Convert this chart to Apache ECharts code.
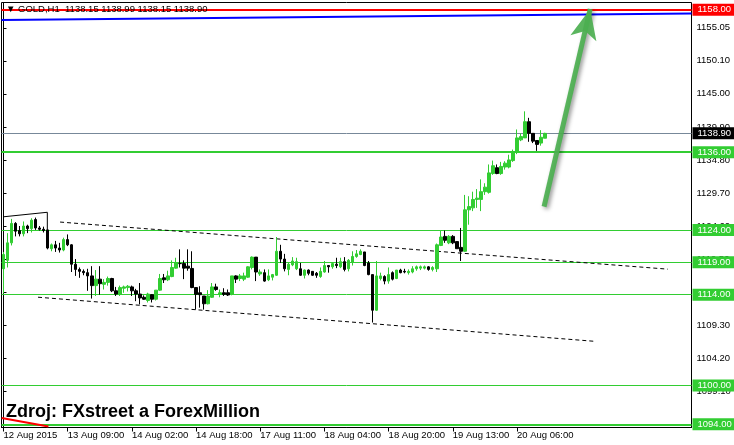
<!DOCTYPE html>
<html><head><meta charset="utf-8">
<script src="https://cdn.jsdelivr.net/npm/echarts@6/dist/echarts.min.js"></script>
<style>html,body{margin:0;padding:0;background:#fff}#c{width:734px;height:445px}</style>
</head><body><div id="c"></div><script>
// ---------------- data ----------------
const symbolName = 'GOLD,H1';
const sourceText = 'Zdroj: FXstreet a ForexMillion';
const openP = [1118.0,1119.3,1122.0,1125.0,1123.9,1123.4,1124.6,1124.2,1125.6,1124.3,1124.1,1124.0,1121.1,1121.7,1121.2,1120.9,1122.5,1121.7,1118.7,1117.9,
1117.6,1117.4,1116.9,1115.4,1116.4,1115.6,1115.9,1116.5,1114.6,1114.1,1115.0,1115.1,1115.2,1114.6,1114.1,1113.6,1113.1,1114.0,1113.3,1114.7,
1116.6,1116.3,1116.8,1118.1,1118.8,1118.8,1118.4,1118.05,1115.1,1114.3,1113.8,1112.6,1113.6,1115.2,1114.1,1114.3,1114.3,1114.05,1116.9,1116.5,
1116.4,1116.7,1118.2,1119.8,1117.2,1117.4,1116.3,1116.7,1117.0,1120.7,1119.5,1117.9,1118.6,1118.0,1118.0,1117.0,1117.8,1117.6,1117.3,1116.8,
1117.5,1118.5,1118.3,1118.7,1118.3,1119.1,1118.0,1119.0,1119.9,1120.2,1120.6,1118.9,1117.1,1111.6,1116.5,1116.8,1116.1,1117.4,1116.5,1117.8,
1117.6,1117.4,1117.5,1118.0,1118.1,1118.1,1118.3,1117.9,1118.0,1121.6,1123.0,1122.0,1123.0,1122.2,1121.3,1120.7,1127.1,1127.4,1128.7,1128.7,
1129.9,1129.8,1132.7,1133.6,1132.7,1133.7,1133.7,1134.7,1136.1,1137.9,1138.2,1140.7,1138.9,1137.8,1137.4,1138.15];
const highP = [1120.6,1123.5,1125.7,1125.2,1124.6,1125.3,1124.8,1125.8,1125.9,1124.6,1124.5,1124.0,1121.9,1122.3,1122.0,1122.8,1123.3,1121.8,1119.5,1118.2,
1117.9,1118.0,1118.4,1117.8,1118.4,1116.4,1116.8,1116.6,1115.2,1115.4,1115.4,1115.5,1115.4,1114.9,1115.8,1113.9,1114.3,1114.1,1114.7,1117.2,
1117.2,1117.7,1119.3,1119.7,1121.0,1119.3,1121.0,1120.7,1115.1,1115.3,1113.8,1114.7,1115.8,1115.7,1114.8,1115.0,1114.8,1116.9,1117.0,1117.2,
1117.4,1118.4,1119.9,1119.8,1117.9,1117.9,1117.9,1117.2,1122.9,1121.7,1120.3,1118.9,1119.8,1119.7,1118.9,1117.9,1117.9,1117.6,1117.5,1118.2,
1119.2,1118.5,1118.9,1119.7,1119.7,1119.8,1119.5,1120.7,1120.9,1121.0,1120.6,1119.2,1117.1,1119.2,1117.4,1117.0,1118.2,1117.6,1117.8,1118.0,
1118.0,1117.9,1118.4,1118.5,1118.5,1118.5,1118.4,1118.4,1121.9,1123.9,1123.9,1123.2,1123.2,1122.2,1124.3,1129.4,1129.2,1129.9,1130.3,1131.8,
1131.2,1134.1,1134.7,1134.1,1134.5,1134.6,1135.6,1136.4,1139.5,1138.9,1142.3,1141.3,1138.9,1137.8,1139.4,1138.99];
const lowP = [1114.2,1118.2,1121.6,1123.0,1123.0,1123.0,1123.5,1123.6,1124.0,1123.9,1123.6,1121.0,1120.7,1120.6,1120.5,1120.7,1121.5,1117.5,1116.9,1116.6,
1117.0,1114.6,1113.4,1113.8,1114.0,1114.8,1115.4,1114.4,1113.8,1113.8,1114.3,1114.5,1113.8,1113.0,1112.5,1113.2,1112.8,1112.8,1113.1,1114.6,
1115.8,1116.1,1116.7,1118.0,1118.2,1116.4,1117.7,1115.0,1111.7,1112.0,1111.7,1112.5,1113.5,1114.6,1113.6,1113.8,1113.8,1113.9,1115.8,1116.1,
1116.1,1116.6,1117.9,1116.1,1116.9,1116.0,1116.1,1116.2,1116.9,1118.9,1117.6,1117.0,1118.4,1117.8,1116.9,1116.5,1117.0,1116.9,1116.6,1116.6,
1117.4,1117.4,1118.0,1118.1,1118.1,1117.6,1117.6,1118.5,1119.7,1120.1,1118.4,1117.0,1109.7,1111.5,1116.2,1115.6,1115.7,1116.2,1116.4,1117.3,
1117.3,1117.1,1117.3,1117.7,1117.8,1117.9,1117.7,1117.6,1117.5,1121.5,1122.0,1121.8,1121.8,1121.1,1119.2,1120.6,1124.8,1126.9,1127.4,1126.9,
1129.4,1129.6,1132.5,1132.6,1132.5,1133.3,1133.5,1134.5,1135.7,1137.7,1138.2,1137.6,1137.4,1136.2,1137.0,1138.15];
const closeP = [1120.2,1122.0,1125.0,1123.8,1123.4,1124.6,1124.2,1125.5,1124.3,1124.1,1123.9,1121.2,1121.7,1121.2,1120.9,1122.5,1121.7,1118.7,1117.9,1117.6,
1117.4,1116.9,1115.4,1116.4,1115.7,1115.9,1116.5,1114.6,1114.1,1115.1,1115.2,1115.3,1114.6,1114.1,1113.5,1113.3,1114.1,1113.3,1114.7,1116.5,
1116.3,1116.9,1118.2,1118.9,1118.8,1118.1,1118.1,1115.1,1114.05,1114.0,1112.6,1113.8,1115.2,1114.8,1114.3,1114.05,1113.95,1116.9,1116.4,1116.9,
1116.9,1118.3,1119.8,1117.5,1117.5,1116.1,1116.9,1117.1,1120.7,1119.5,1118.0,1118.7,1119.2,1119.1,1117.0,1117.8,1117.3,1117.0,1117.0,1117.6,
1118.5,1118.3,1118.8,1118.5,1119.1,1117.9,1119.3,1119.9,1120.3,1120.7,1118.5,1117.1,1111.6,1116.9,1116.9,1116.1,1117.1,1116.4,1117.8,1117.4,
1117.5,1117.6,1118.0,1118.3,1118.3,1118.3,1117.9,1118.2,1121.7,1122.9,1122.4,1123.0,1122.0,1121.1,1120.7,1127.1,1127.6,1128.7,1128.9,1129.9,
1130.6,1132.8,1133.9,1132.7,1133.8,1134.3,1134.8,1136.1,1138.2,1138.4,1140.7,1138.9,1137.7,1137.2,1138.3,1138.90];

const xTickLabels = ['12 Aug 2015','13 Aug 09:00','14 Aug 02:00','14 Aug 18:00','17 Aug 11:00','18 Aug 04:00','18 Aug 20:00','19 Aug 13:00','20 Aug 06:00'];
const barsPerXTick = 16;
const totalSlots = 172;          // bars shown incl. empty right shift
const yTickValues = [1099.1,1104.2,1109.3,1114.4,1119.5,1124.6,1129.7,1134.8,1139.9,1145.0,1150.1,1155.2];
const yTickLabels = ['1099.10','1104.20','1109.30','1114.40','1119.50','1124.60','1129.70','1134.80','1139.90','1145.00','1150.10','1155.05'];
const yMin = 1093.5, yMax = 1159.1;

const resistanceLevel = 1158.00;
const greenLevels = [1136.00, 1124.00, 1119.00, 1114.00, 1100.00, 1094.00];
const greenLevelsThick = [1136.00, 1094.00];
const lastPrice = 1138.90;

// drawn objects in [bar index, price]
const blueTrend = [[-0.5,1156.4],[171.5,1157.4]];
const channelUpper = [[14.1,1125.21],[165.6,1117.94]];
const channelLower = [[8.6,1113.61],[147.4,1106.80]];
const triangleEdge = [[0.12,1126.03],[10.92,1126.72],[10.92,1123.98]];
const redStub = [[-0.45,1094.98],[11.2,1093.65]];
const arrowPath = [[134.75,1127.6],[146.25,1158.1]];

// ---------------- categories (hourly, no 00:00 bar, no weekend) ----------------
const MON = ['Jan','Feb','Mar','Apr','May','Jun','Jul','Aug','Sep','Oct','Nov','Dec'];
const categories = [];
{
  let t = Date.UTC(2015,7,12,16);
  while (categories.length < totalSlots) {
    const d = new Date(t);
    const wd = d.getUTCDay(), h = d.getUTCHours();
    if (h !== 0 && wd !== 0 && wd !== 6) {
      categories.push(d.getUTCDate()+' '+MON[d.getUTCMonth()]+' '+String(h).padStart(2,'0')+':00');
    }
    t += 3600000;
  }
}
const candleData = openP.map((o,i)=>[o, closeP[i], lowP[i], highP[i]]);
const n = candleData.length;

const FONT = 'Liberation Sans';
const FS = 9.5;
const GREEN = '#32CD32';

const levelLabel = (bg) => ({backgroundColor: bg});
const markData = [
  {yAxis: resistanceLevel, lineStyle:{color:'#ff0000', width:2, type:'solid'}, label: levelLabel('#ff0000')},
  {yAxis: lastPrice, lineStyle:{color:'#778899', width:1, type:'solid'}, label: levelLabel('#000000')}
].concat(greenLevels.map(v => ({
  yAxis: v, lineStyle:{color: GREEN, width: greenLevelsThick.includes(v) ? 2 : 1, type:'solid'}, label: levelLabel(GREEN)
})));

const overlay = (data, style, extra) => Object.assign({
  type:'line', xAxisIndex:1, yAxisIndex:0, data, symbol:'none', silent:true,
  lineStyle: style, z: 3
}, extra || {});

const last = n - 1;
const header = '\u25BC ' + symbolName + '  ' + [openP[last],highP[last],lowP[last],closeP[last]].map(v=>v.toFixed(2)).join(' ');

const chart = echarts.init(document.getElementById('c'), null, {renderer:'canvas'});
chart.setOption({
  animation:false,
  backgroundColor:'#ffffff',
  grid:{left:1.5, right:42.5, top:2.5, bottom:17.5, show:true, borderColor:'#000', borderWidth:1, backgroundColor:'#fff'},
  xAxis:[{
    type:'category', data: categories, boundaryGap:true,
    axisLine:{show:true, lineStyle:{color:'#000', width:1}},
    axisTick:{show:true, alignWithLabel:true, length:4, lineStyle:{color:'#000'},
      interval:(i)=> i % barsPerXTick === 0 && i/barsPerXTick < xTickLabels.length},
    axisLabel:{show:true, align:'left', margin:3, color:'#000', fontFamily:FONT, fontSize:FS,
      interval:(i)=> i % barsPerXTick === 0 && i/barsPerXTick < xTickLabels.length,
      formatter:(v,i)=> xTickLabels[i/barsPerXTick] || ''},
    splitLine:{show:false}
  },{
    type:'value', min:-0.5, max: totalSlots-0.5, show:false
  }],
  yAxis:[{
    type:'value', position:'right', min:yMin, max:yMax, scale:true,
    axisLine:{show:true, lineStyle:{color:'#000', width:1}},
    axisTick:{show:true, length:3, lineStyle:{color:'#000'}, customValues: yTickValues},
    axisLabel:{show:true, margin:5, color:'#000', fontFamily:FONT, fontSize:FS, customValues: yTickValues,
      formatter:(v)=>{ const k = yTickValues.findIndex(t=>Math.abs(t-v)<1e-6); return k>=0 ? yTickLabels[k] : ''; }},
    splitLine:{show:false}
  }],
  series:[
    {
      type:'candlestick', data: candleData, barWidth:3, z:4,
      itemStyle:{color:GREEN, color0:'#000000', borderColor:GREEN, borderColor0:'#000000', borderWidth:1},
      markLine:{
        symbol:['none','none'], silent:true, animation:false, z:2,
        lineStyle:{type:'solid'},
        label:{show:true, position:'end', distance:1, color:'#fff', fontFamily:FONT, fontSize:FS,
          padding:[1,4,1,5], formatter:(p)=> Number(p.value).toFixed(2)},
        data: markData
      }
    },
    overlay(blueTrend, {color:'#0000ff', width:2}),
    overlay(channelUpper, {color:'#000', width:1, type:[4,3]}),
    overlay(channelLower, {color:'#000', width:1, type:[4,3]}),
    overlay(triangleEdge, {color:'#000', width:1}),
    overlay(redStub, {color:'#ff0000', width:2}),
    {
      type:'line', xAxisIndex:1, yAxisIndex:0, data:[], silent:true, z:6,
      markLine:{
        symbol:['none','arrow'], symbolSize:[20,30], silent:true, animation:false,
        label:{show:false},
        lineStyle:{color:'#4caf50', width:5, type:'solid', opacity:0.92,
          shadowBlur:4, shadowColor:'rgba(0,0,0,0.45)', shadowOffsetX:2, shadowOffsetY:2},
        itemStyle:{color:'#4caf50'},
        data:[[{coord:arrowPath[0]},{coord:arrowPath[1]}]]
      }
    }
  ],
  graphic:[
    {type:'text', left:6, top:4, z:100, style:{text:header, fill:'#000', font:'9.5px "Liberation Sans", "DejaVu Sans"'}},
    {type:'text', left:6, top:403, z:100, style:{text:sourceText, fill:'#000', font:'bold 18px "Liberation Sans"'}}
  ]
});
</script></body></html>
